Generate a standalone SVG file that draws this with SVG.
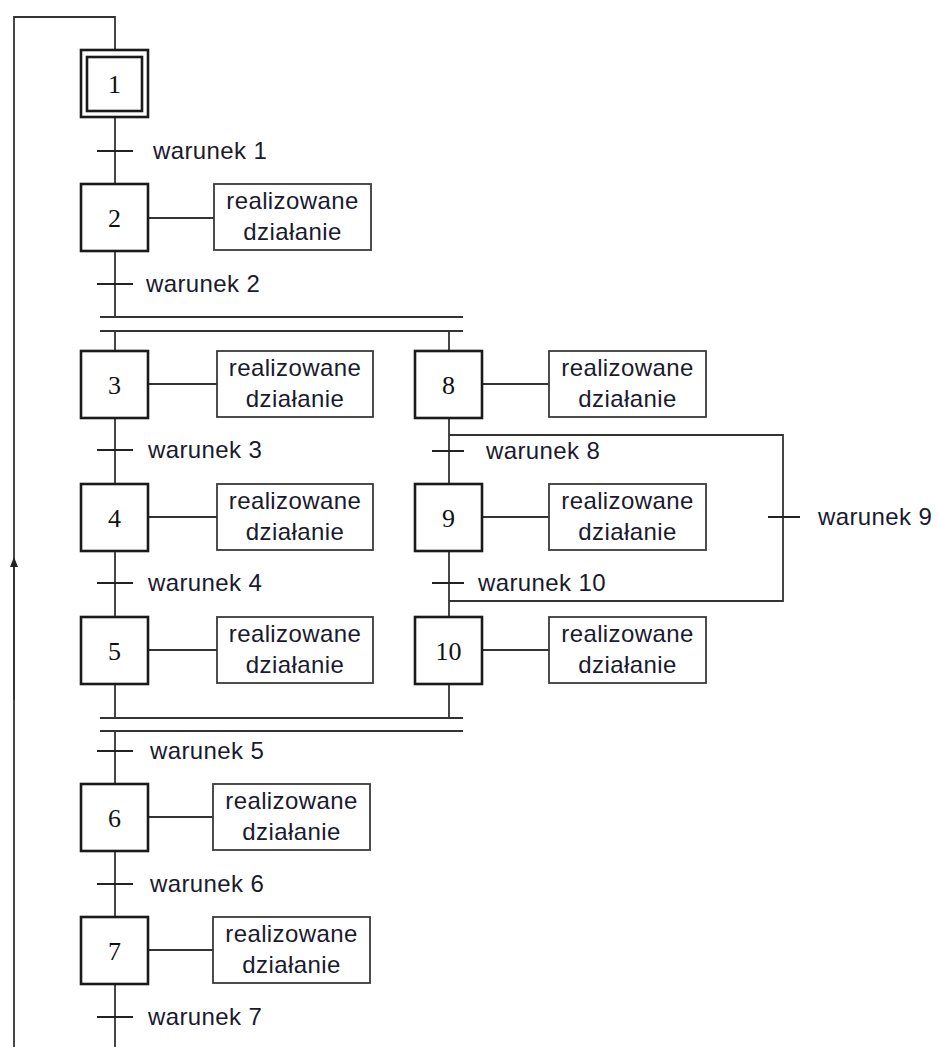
<svg xmlns="http://www.w3.org/2000/svg" width="938" height="1047" viewBox="0 0 938 1047">
<style>
.ln{stroke:#333;stroke-width:1.8;fill:none}
.tk{stroke:#222;stroke-width:2.2;fill:none}
.st{fill:#fff;stroke:#1a1a1a;stroke-width:2.6}
.ac{fill:#fff;stroke:#3a3a3a;stroke-width:1.8}
.num{font-family:"Liberation Serif",serif;font-size:26px;fill:#111;text-anchor:middle}
.lbl{font-family:"Liberation Sans",Arial,sans-serif;font-size:24px;letter-spacing:0.4px;fill:#1a1a2e}
.at{font-family:"Liberation Sans",Arial,sans-serif;font-size:24px;letter-spacing:0.4px;fill:#1a1a2e;text-anchor:middle}
</style>
<defs>
<marker id="arr" markerWidth="10" markerHeight="10" refX="5" refY="5" orient="auto" markerUnits="userSpaceOnUse">
<path d="M0,1 L10,5 L0,9 z" fill="#222"/>
</marker>
</defs>
<g id="connectors">
<path class="ln" d="M14,1047 V17 H115 V50"/>
<path class="ln" d="M14,700 V562" marker-end="url(#arr)"/>
<path class="ln" d="M115,117 V184 M115,251 V317 M115,331 V351 M115,418 V484 M115,551 V617 M115,684 V718 M115,731 V784 M115,851 V917 M115,984 V1047"/>
<path class="ln" d="M449,331 V351 M449,418 V484 M449,551 V617 M449,684 V718"/>
<path class="ln" d="M449,435 H783 V601 H449"/>
<path class="ln" d="M100,317 H463 M100,331 H463 M100,718 H463 M100,731 H463"/>
<path class="tk" d="M97,151 H133 M97,284 H133 M97,450 H133 M97,583 H133 M97,751 H133 M97,884 H133 M97,1017 H133"/>
<path class="tk" d="M432,451 H464 M432,583 H464 M768,517 H800"/>
<path class="ln" d="M148,218 H214 M148,384 H217 M148,517 H217 M148,650 H217 M148,817 H213 M148,950 H213 M482,384 H549 M482,517 H549 M482,650 H549"/>
</g>
<g id="transitions">
<text class="lbl" x="153" y="159">warunek 1</text>
<text class="lbl" x="146" y="292">warunek 2</text>
<text class="lbl" x="148" y="458">warunek 3</text>
<text class="lbl" x="148" y="591">warunek 4</text>
<text class="lbl" x="150" y="759">warunek 5</text>
<text class="lbl" x="150" y="892">warunek 6</text>
<text class="lbl" x="148" y="1025">warunek 7</text>
<text class="lbl" x="486" y="459">warunek 8</text>
<text class="lbl" x="818" y="525">warunek 9</text>
<text class="lbl" x="478" y="591">warunek 10</text>
</g>
<g id="step1"><rect class="st" x="81" y="50" width="67" height="67"/><rect class="st" x="87" y="57" width="55" height="54" stroke-width="1.8"/><text class="num" x="114.5" y="93">1</text></g>
<g id="step2"><rect class="st" x="81" y="184" width="67" height="67"/><text class="num" x="114.5" y="227">2</text></g>
<g id="step3"><rect class="st" x="81" y="351" width="67" height="67"/><text class="num" x="114.5" y="394">3</text></g>
<g id="step4"><rect class="st" x="81" y="484" width="67" height="67"/><text class="num" x="114.5" y="527">4</text></g>
<g id="step5"><rect class="st" x="81" y="617" width="67" height="67"/><text class="num" x="114.5" y="660">5</text></g>
<g id="step6"><rect class="st" x="81" y="784" width="67" height="67"/><text class="num" x="114.5" y="827">6</text></g>
<g id="step7"><rect class="st" x="81" y="917" width="67" height="67"/><text class="num" x="114.5" y="960">7</text></g>
<g id="step8"><rect class="st" x="415" y="351" width="67" height="67"/><text class="num" x="448.5" y="394">8</text></g>
<g id="step9"><rect class="st" x="415" y="484" width="67" height="67"/><text class="num" x="448.5" y="527">9</text></g>
<g id="step10"><rect class="st" x="415" y="617" width="67" height="67"/><text class="num" x="448.5" y="660">10</text></g>
<g id="action2"><rect class="ac" x="214" y="184" width="157" height="66"/><text class="at" x="292.5" y="209">realizowane</text><text class="at" x="292.5" y="240">działanie</text></g>
<g id="action3"><rect class="ac" x="217" y="351" width="156" height="66"/><text class="at" x="295" y="376">realizowane</text><text class="at" x="295" y="407">działanie</text></g>
<g id="action4"><rect class="ac" x="217" y="484" width="156" height="66"/><text class="at" x="295" y="509">realizowane</text><text class="at" x="295" y="540">działanie</text></g>
<g id="action5"><rect class="ac" x="217" y="617" width="156" height="66"/><text class="at" x="295" y="642">realizowane</text><text class="at" x="295" y="673">działanie</text></g>
<g id="action6"><rect class="ac" x="213" y="784" width="157" height="66"/><text class="at" x="291.5" y="809">realizowane</text><text class="at" x="291.5" y="840">działanie</text></g>
<g id="action7"><rect class="ac" x="213" y="917" width="157" height="66"/><text class="at" x="291.5" y="942">realizowane</text><text class="at" x="291.5" y="973">działanie</text></g>
<g id="action8"><rect class="ac" x="549" y="351" width="157" height="66"/><text class="at" x="627.5" y="376">realizowane</text><text class="at" x="627.5" y="407">działanie</text></g>
<g id="action9"><rect class="ac" x="549" y="484" width="157" height="66"/><text class="at" x="627.5" y="509">realizowane</text><text class="at" x="627.5" y="540">działanie</text></g>
<g id="action10"><rect class="ac" x="549" y="617" width="157" height="66"/><text class="at" x="627.5" y="642">realizowane</text><text class="at" x="627.5" y="673">działanie</text></g>
</svg>
